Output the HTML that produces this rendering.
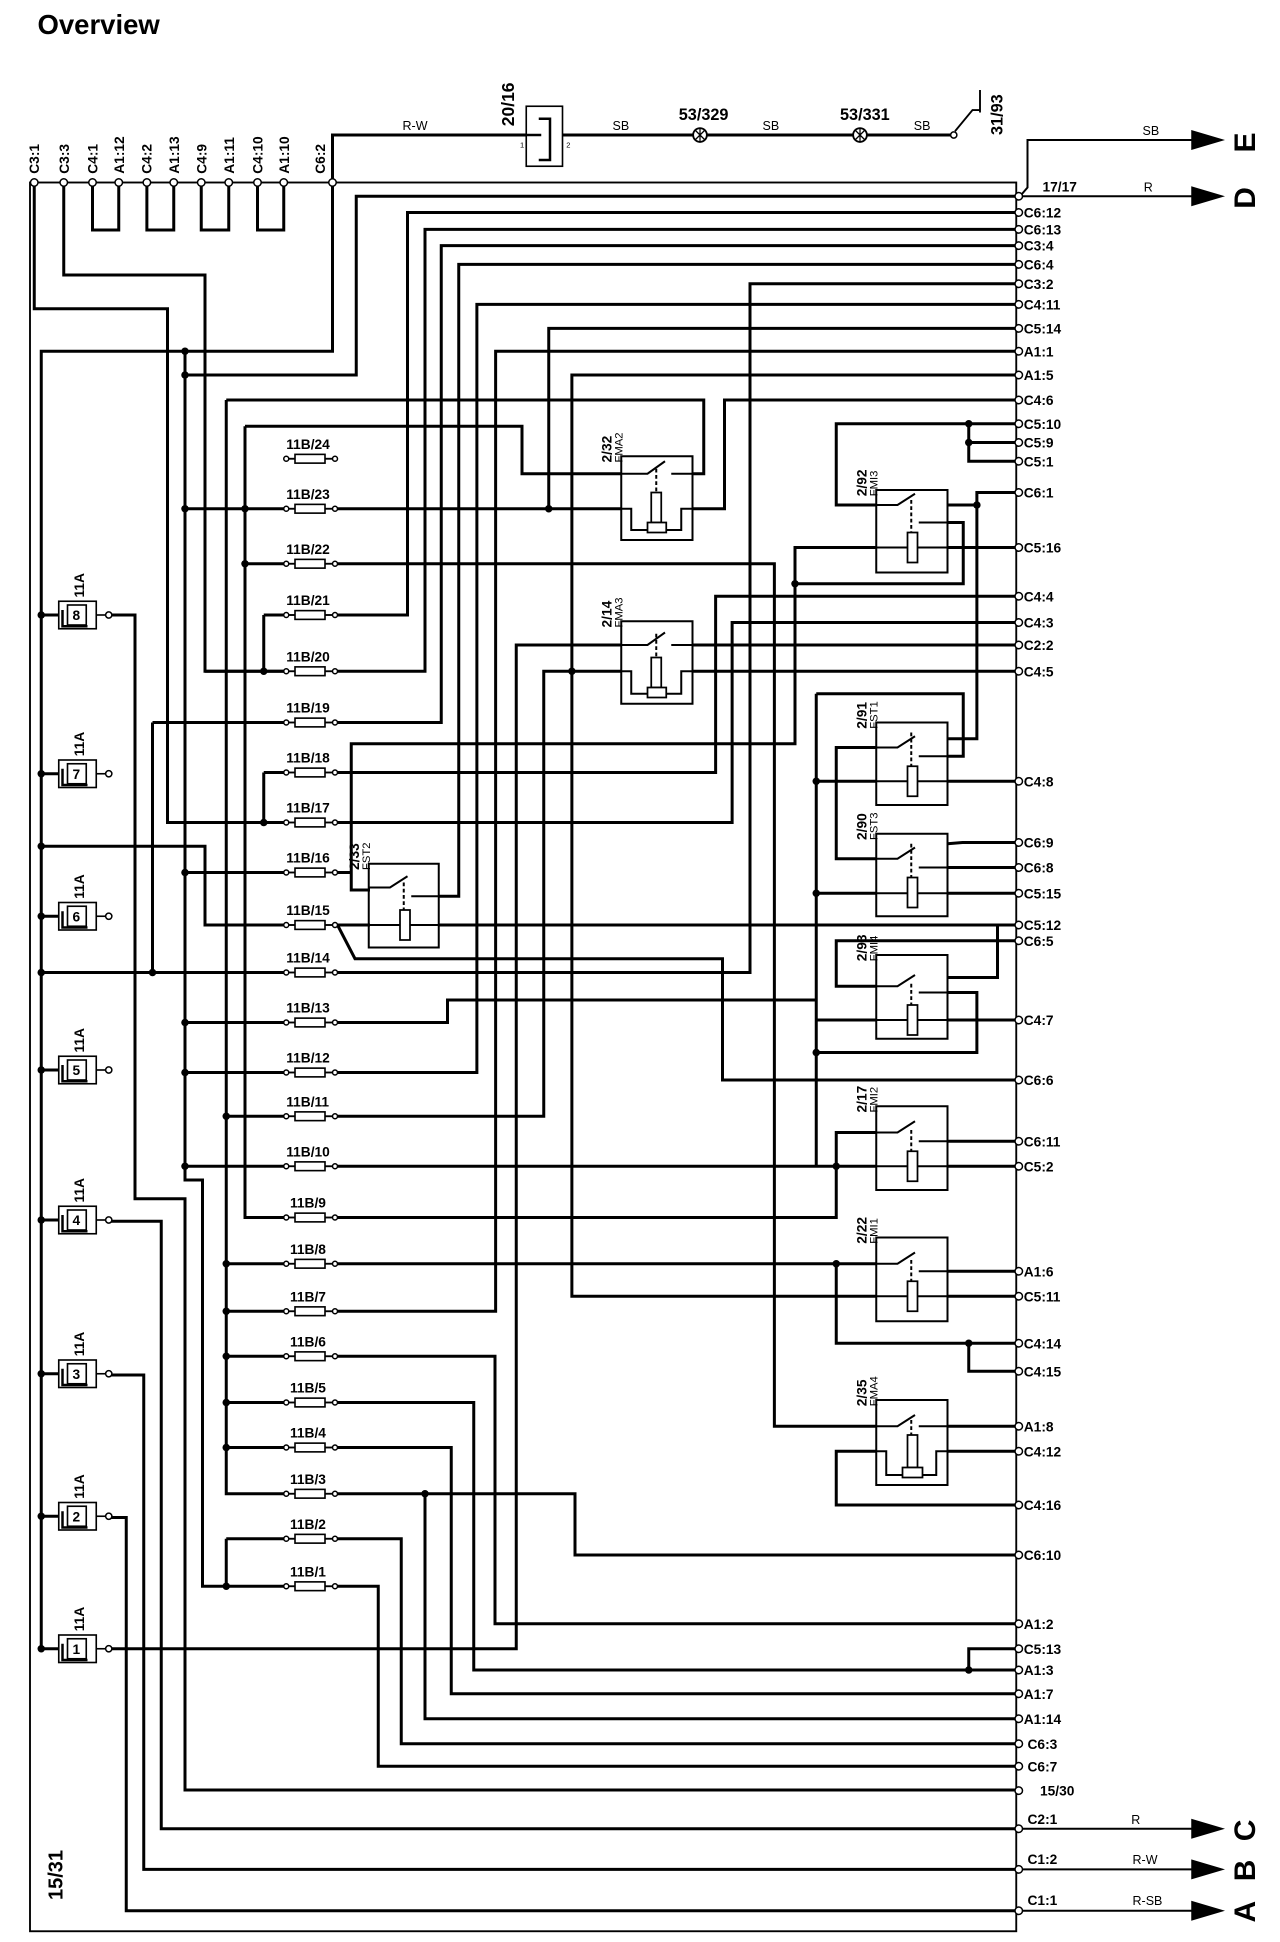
<!DOCTYPE html>
<html><head><meta charset="utf-8"><style>
html,body{margin:0;padding:0;background:#fff}
svg{display:block}
text{font-family:"Liberation Sans",sans-serif;fill:#000}
.b{font-weight:bold;font-size:11px}
.s{font-size:6px}
.w{fill:none;stroke:#000;stroke-width:2.4}
.t{fill:none;stroke:#000;stroke-width:1.3}
</style></head><body>
<svg width="1280" height="1942" viewBox="0 0 1024 1553.6" xmlns="http://www.w3.org/2000/svg">
<defs>
<g id="fz"><line x1="229" y1="0" x2="236" y2="0" stroke="#000" stroke-width="1.5"/><line x1="260" y1="0" x2="268" y2="0" stroke="#000" stroke-width="1.5"/><rect x="236" y="-3.5" width="24" height="7" fill="#fff" stroke="#000" stroke-width="1.3"/><circle cx="229" cy="0" r="2" fill="#fff" stroke="#000" stroke-width="1.2"/><circle cx="268" cy="0" r="2" fill="#fff" stroke="#000" stroke-width="1.2"/></g>
<g id="fa"><line x1="33" y1="0" x2="47" y2="0" stroke="#000" stroke-width="2.4"/><rect x="47" y="-11" width="30" height="22" fill="#fff" stroke="#000" stroke-width="1.3"/><rect x="54" y="-8" width="15" height="16" fill="none" stroke="#000" stroke-width="1.3"/><path d="M50,-4 V9 H70" fill="none" stroke="#000" stroke-width="2"/><line x1="77" y1="0" x2="84" y2="0" stroke="#000" stroke-width="1.3"/><circle cx="87" cy="0" r="2.5" fill="#fff" stroke="#000" stroke-width="1.2"/></g>
</defs>

<text x="30" y="27" style="font-weight:bold;font-size:22px">Overview</text>

<rect x="24" y="146" width="789" height="1399" fill="none" stroke="#000" stroke-width="1.5"/>

<path class="w" d="M266,146 V108 H421"/>
<path class="w" d="M450,108 H763"/>
<rect x="421" y="85" width="29" height="48" fill="#fff" stroke="#000" stroke-width="1.3"/>
<path d="M431,95 H440 V128 H431 M421,108 H433" fill="none" stroke="#000" stroke-width="2"/>
<text x="0" y="0" transform="translate(411,101) rotate(-90)" style="font-weight:bold;font-size:14px">20/16</text>
<text x="416" y="118" class="s">1</text><text x="453" y="118" class="s">2</text>
<text x="322" y="104" style="font-size:10px">R-W</text>
<text x="490" y="104" style="font-size:10px">SB</text>
<text x="610" y="104" style="font-size:10px">SB</text>
<text x="731" y="104" style="font-size:10px">SB</text>
<circle cx="560" cy="108" r="5.5" fill="#fff" stroke="#000" stroke-width="1.5"/><path d="M556,104 L564,112 M564,104 L556,112 M560,103 V113" stroke="#000" stroke-width="1"/>
<circle cx="688" cy="108" r="5.5" fill="#fff" stroke="#000" stroke-width="1.5"/><path d="M684,104 L692,112 M692,104 L684,112 M688,103 V113" stroke="#000" stroke-width="1"/>
<text x="543" y="96" style="font-weight:bold;font-size:13px">53/329</text>
<text x="672" y="96" style="font-weight:bold;font-size:13px">53/331</text>
<circle cx="763" cy="108" r="2.5" fill="#fff" stroke="#000" stroke-width="1.2"/>
<path d="M764,105 L778,88 H784 M784,72 V90" fill="none" stroke="#000" stroke-width="1.5"/>
<text transform="translate(802,108) rotate(-90)" style="font-weight:bold;font-size:13px">31/93</text>

<path class="w" d="M74,146 V184 H95 V146 M117.5,146 V184 H139 V146 M161,146 V184 H183 V146 M206,146 V184 H227 V146"/>
<g fill="#fff" stroke="#000" stroke-width="1.2">
<circle cx="27.4" cy="146" r="3"/><circle cx="51" cy="146" r="3"/><circle cx="74" cy="146" r="3"/><circle cx="95" cy="146" r="3"/><circle cx="117.5" cy="146" r="3"/><circle cx="139" cy="146" r="3"/><circle cx="161" cy="146" r="3"/><circle cx="183" cy="146" r="3"/><circle cx="206" cy="146" r="3"/><circle cx="227" cy="146" r="3"/><circle cx="266" cy="146" r="3"/></g>
<g class="b">
<text transform="translate(31,139) rotate(-90)">C3:1</text>
<text transform="translate(55,139) rotate(-90)">C3:3</text>
<text transform="translate(78,139) rotate(-90)">C4:1</text>
<text transform="translate(99,139) rotate(-90)">A1:12</text>
<text transform="translate(121,139) rotate(-90)">C4:2</text>
<text transform="translate(143,139) rotate(-90)">A1:13</text>
<text transform="translate(165,139) rotate(-90)">C4:9</text>
<text transform="translate(187,139) rotate(-90)">A1:11</text>
<text transform="translate(210,139) rotate(-90)">C4:10</text>
<text transform="translate(231,139) rotate(-90)">A1:10</text>
<text transform="translate(260,139) rotate(-90)">C6:2</text>
</g>

<g class="w">
<path d="M266,149 V281 H33 V1319"/>
<path d="M51,149 V220 H164 V537 H228"/>
<path d="M27.4,149 V247 H134 V658 H228"/>
<path d="M813,157 H285 V300 H148"/>
<path d="M148,281 V944 H162 V1269 H228"/>
<path d="M87,492 H108 V959 H148 V1432 H813"/>
<path d="M148,407 H228"/>
<path d="M196,451 H228"/>
<path d="M211,492 H228 M211,492 V537"/>
<path d="M164,537 H228"/>
<path d="M122,578 H228 M122,578 V778"/>
<path d="M211,618 H228 M211,618 V658"/>
<path d="M134,658 H228"/>
<path d="M148,698 H228"/>
<path d="M33,677 H164 V740 H228"/>
<path d="M33,778 H228"/>
<path d="M148,818 H228"/>
<path d="M148,858 H228"/>
<path d="M181,893 H228"/>
<path d="M148,933 H228"/>
<path d="M196,341 V974 H228"/>
<path d="M181,1011 H228 M181,1049 H228 M181,1085 H228 M181,1122 H228 M181,1158 H228"/>
<path d="M181,320 V1195 H228"/>
<path d="M181,1231 H228 M181,1231 V1269"/>
<path d="M270,407 H497"/>
<path d="M270,451 H619.5 V1141 H701"/>
<path d="M270,492 H326 V170 H813"/>
<path d="M270,537 H340 V183.5 H813"/>
<path d="M270,578 H353 V196.5 H813"/>
<path d="M270,618 H572.5 V477 H813"/>
<path d="M270,658 H585.7 V498 H813"/>
<path d="M270,698 H281"/>
<path d="M270,740 H296"/>
<path d="M270,740 L284,767 H578 V864 H813"/>
<path d="M270,778 H600 V227 H813"/>
<path d="M270,818 H358 V800 H653"/>
<path d="M270,858 H381.5 V243.5 H813"/>
<path d="M270,893 H435 V537 H497"/>
<path d="M270,933 H701"/>
<path d="M270,974 H669 V906 H701"/>
<path d="M270,1011 H701 M669,1011 V1074.6 H813 M775,1074.6 V1097 H813"/>
<path d="M270,1049 H396.5 V281 H813"/>
<path d="M270,1085 H396 V1299 H813"/>
<path d="M270,1122 H379 V1336 H813 M813,1319 H775 V1336"/>
<path d="M270,1158 H361 V1355 H813"/>
<path d="M270,1195 H460 V1244 H813 M340,1195 V1375 H813"/>
<path d="M270,1231 H321 V1395 H813"/>
<path d="M270,1269 H302.6 V1413 H813"/>
<path d="M813,262.7 H439 V407"/>
<path d="M813,211.5 H367 V717 H351"/>
<path d="M813,300 H457.5 V1037 H701"/>
<path d="M813,320 H579.6 V407 H554"/>
<path d="M181,320 H563 V379 H554"/>
<path d="M196,341 H417.6 V379 H497"/>
<path d="M87,1319 H413 V516 H497"/>
<path d="M554,516 H813 M554,537 H813"/>
<path d="M701,404 H669 V339 H813 M775,339 V369 H813 M775,354 H813"/>
<path d="M758,404 H781.5 M813,394 H781.5 V591 H758"/>
<path d="M758,418 H770.6 V467 H636"/>
<path d="M701,438 H636 V595 H281 V712 H296"/>
<path d="M758,438 H813"/>
<path d="M653,555 H770.6 V605 H758 M653,555 V933"/>
<path d="M701,625 H653 M758,625 H813 M701,598 H669 V687 H701"/>
<path d="M758,675 L770,674 H813 M758,694 H813 M701,714.6 H653 M758,714.6 H813"/>
<path d="M351,740 H813"/>
<path d="M701,789 H669 V752.6 H813 M758,782 H798 V740 M701,816 H653 M758,794 H781.5 V842 H653 M758,816 H813"/>
<path d="M758,913 H813 M758,933 H813"/>
<path d="M758,1017 H813 M758,1037 H813"/>
<path d="M758,1141 H813 M758,1161 H813 M701,1161 H669 V1204 H813"/>
<path d="M87,977 H129 V1463 H813"/>
<path d="M87,1100 H115 V1495.5 H813"/>
<path d="M87,1214 H101 V1528.6 H813"/>
</g>

<g stroke="#000" stroke-width="1.6" fill="none">
<path d="M816,157 L822,150 V112 H955"/><path d="M816,157 H955"/>
<path d="M816,1463 H955"/><path d="M816,1495.5 H955"/><path d="M816,1528.6 H955"/>
</g>
<g fill="#000">
<path d="M953,104 L980,112 L953,120Z"/><path d="M953,149 L980,157 L953,165Z"/>
<path d="M953,1455 L980,1463 L953,1471Z"/><path d="M953,1487.5 L980,1495.5 L953,1503.5Z"/><path d="M953,1520.6 L980,1528.6 L953,1536.6Z"/>
</g>
<g style="font-family:'Liberation Serif',serif;font-weight:bold;font-size:24px">
<text transform="translate(1004,122) rotate(-90)">E</text>
<text transform="translate(1004,167) rotate(-90)">D</text>
<text transform="translate(1004,1473) rotate(-90)">C</text>
<text transform="translate(1004,1505) rotate(-90)">B</text>
<text transform="translate(1004,1538) rotate(-90)">A</text>
</g>
<g style="font-size:10px">
<text x="914" y="108">SB</text><text x="915" y="153">R</text>
<text x="905" y="1459">R</text><text x="906" y="1491">R-W</text><text x="906" y="1524">R-SB</text>
</g>

<g fill="#fff" stroke="#000" stroke-width="1.2">
<circle cx="815" cy="157" r="3"/><circle cx="815" cy="170" r="3"/><circle cx="815" cy="183.5" r="3"/><circle cx="815" cy="196.5" r="3"/><circle cx="815" cy="211.5" r="3"/><circle cx="815" cy="227" r="3"/><circle cx="815" cy="243.5" r="3"/><circle cx="815" cy="262.7" r="3"/><circle cx="815" cy="281" r="3"/><circle cx="815" cy="300" r="3"/><circle cx="815" cy="320" r="3"/><circle cx="815" cy="339" r="3"/><circle cx="815" cy="354" r="3"/><circle cx="815" cy="369" r="3"/><circle cx="815" cy="394" r="3"/><circle cx="815" cy="438" r="3"/><circle cx="815" cy="477" r="3"/><circle cx="815" cy="498" r="3"/><circle cx="815" cy="516" r="3"/><circle cx="815" cy="537" r="3"/><circle cx="815" cy="625" r="3"/><circle cx="815" cy="674" r="3"/><circle cx="815" cy="694" r="3"/><circle cx="815" cy="714.6" r="3"/><circle cx="815" cy="740" r="3"/><circle cx="815" cy="752.6" r="3"/><circle cx="815" cy="816" r="3"/><circle cx="815" cy="864" r="3"/><circle cx="815" cy="913" r="3"/><circle cx="815" cy="933" r="3"/><circle cx="815" cy="1017" r="3"/><circle cx="815" cy="1037" r="3"/><circle cx="815" cy="1074.6" r="3"/><circle cx="815" cy="1097" r="3"/><circle cx="815" cy="1141" r="3"/><circle cx="815" cy="1161" r="3"/><circle cx="815" cy="1204" r="3"/><circle cx="815" cy="1244" r="3"/><circle cx="815" cy="1299" r="3"/><circle cx="815" cy="1319" r="3"/><circle cx="815" cy="1336" r="3"/><circle cx="815" cy="1355" r="3"/><circle cx="815" cy="1375" r="3"/><circle cx="815" cy="1395" r="3"/><circle cx="815" cy="1413" r="3"/><circle cx="815" cy="1432.5" r="3"/><circle cx="815" cy="1463" r="3"/><circle cx="815" cy="1495.5" r="3"/><circle cx="815" cy="1528.6" r="3"/></g>
<g class="b">
<text x="834" y="153">17/17</text>
<text x="819" y="174">C6:12</text><text x="819" y="187.5">C6:13</text><text x="819" y="200.5">C3:4</text><text x="819" y="215.5">C6:4</text><text x="819" y="231">C3:2</text><text x="819" y="247.5">C4:11</text><text x="819" y="266.7">C5:14</text><text x="819" y="285">A1:1</text><text x="819" y="304">A1:5</text><text x="819" y="324">C4:6</text><text x="819" y="343">C5:10</text><text x="819" y="358">C5:9</text><text x="819" y="373">C5:1</text><text x="819" y="398">C6:1</text><text x="819" y="442">C5:16</text><text x="819" y="481">C4:4</text><text x="819" y="502">C4:3</text><text x="819" y="520">C2:2</text><text x="819" y="541">C4:5</text><text x="819" y="629">C4:8</text><text x="819" y="678">C6:9</text><text x="819" y="698">C6:8</text><text x="819" y="718.6">C5:15</text><text x="819" y="744">C5:12</text><text x="819" y="756.6">C6:5</text><text x="819" y="820">C4:7</text><text x="819" y="868">C6:6</text><text x="819" y="917">C6:11</text><text x="819" y="937">C5:2</text><text x="819" y="1021">A1:6</text><text x="819" y="1041">C5:11</text><text x="819" y="1078.6">C4:14</text><text x="819" y="1101">C4:15</text><text x="819" y="1145">A1:8</text><text x="819" y="1165">C4:12</text><text x="819" y="1208">C4:16</text><text x="819" y="1248">C6:10</text><text x="819" y="1303">A1:2</text><text x="819" y="1323">C5:13</text><text x="819" y="1340">A1:3</text><text x="819" y="1359">A1:7</text><text x="819" y="1379">A1:14</text><text x="822" y="1399">C6:3</text><text x="822" y="1417">C6:7</text><text x="832" y="1436.5">15/30</text><text x="822" y="1459">C2:1</text><text x="822" y="1491">C1:2</text><text x="822" y="1524">C1:1</text>
</g>

<use href="#fz" y="367"/><use href="#fz" y="407"/><use href="#fz" y="451"/><use href="#fz" y="492"/><use href="#fz" y="537"/><use href="#fz" y="578"/><use href="#fz" y="618"/><use href="#fz" y="658"/><use href="#fz" y="698"/><use href="#fz" y="740"/><use href="#fz" y="778"/><use href="#fz" y="818"/><use href="#fz" y="858"/><use href="#fz" y="893"/><use href="#fz" y="933"/><use href="#fz" y="974"/><use href="#fz" y="1011"/><use href="#fz" y="1049"/><use href="#fz" y="1085"/><use href="#fz" y="1122"/><use href="#fz" y="1158"/><use href="#fz" y="1195"/><use href="#fz" y="1231"/><use href="#fz" y="1269"/>
<g class="b">
<text x="229" y="359">11B/24</text><text x="229" y="399">11B/23</text><text x="229" y="443">11B/22</text><text x="229" y="484">11B/21</text><text x="229" y="529">11B/20</text><text x="229" y="570">11B/19</text><text x="229" y="610">11B/18</text><text x="229" y="650">11B/17</text><text x="229" y="690">11B/16</text><text x="229" y="732">11B/15</text><text x="229" y="770">11B/14</text><text x="229" y="810">11B/13</text><text x="229" y="850">11B/12</text><text x="229" y="885">11B/11</text><text x="229" y="925">11B/10</text><text x="232" y="966">11B/9</text><text x="232" y="1003">11B/8</text><text x="232" y="1041">11B/7</text><text x="232" y="1077">11B/6</text><text x="232" y="1114">11B/5</text><text x="232" y="1150">11B/4</text><text x="232" y="1187">11B/3</text><text x="232" y="1223">11B/2</text><text x="232" y="1261">11B/1</text>
</g>

<use href="#fa" y="492"/><use href="#fa" y="619"/><use href="#fa" y="733"/><use href="#fa" y="856"/><use href="#fa" y="976"/><use href="#fa" y="1099"/><use href="#fa" y="1213"/><use href="#fa" y="1319"/>
<g style="font-weight:bold;font-size:11px">
<text x="58" y="496">8</text><text x="58" y="623">7</text><text x="58" y="737">6</text><text x="58" y="860">5</text><text x="58" y="980">4</text><text x="58" y="1103">3</text><text x="58" y="1217">2</text><text x="58" y="1323">1</text>
<text transform="translate(67,478) rotate(-90)">11A</text><text transform="translate(67,605) rotate(-90)">11A</text><text transform="translate(67,719) rotate(-90)">11A</text><text transform="translate(67,842) rotate(-90)">11A</text><text transform="translate(67,962) rotate(-90)">11A</text><text transform="translate(67,1085) rotate(-90)">11A</text><text transform="translate(67,1199) rotate(-90)">11A</text><text transform="translate(67,1305) rotate(-90)">11A</text>
</g>
<text transform="translate(50,1520) rotate(-90)" style="font-weight:bold;font-size:16px">15/31</text>

<g stroke="#000" fill="none" stroke-width="1.6">
<rect x="497" y="365" width="57" height="67"/>
<path d="M497,379 H518 L532,369 M537,379 H554 M497,407 H505 V424 H545 V407 H554"/>
<rect x="497" y="497" width="57" height="66"/>
<path d="M497,516 H518 L532,506 M537,516 H554 M497,537 H505 V555 H545 V537 H554"/>
<rect x="701" y="392" width="57" height="66"/>
<path d="M701,404 H718 L732,395 M735,418 H758 M701,438 H758"/>
<rect x="701" y="578" width="57" height="66"/>
<path d="M701,598 H718 L732,589 M735,605 H758 M701,625 H758"/>
<rect x="701" y="667" width="57" height="66"/>
<path d="M701,687 H718 L732,678 M735,694 H758 M701,714.6 H758"/>
<rect x="295" y="691" width="56" height="67"/>
<path d="M295,710 H312 L326,701 M329,717 H351 M295,740 H351"/>
<rect x="701" y="764" width="57" height="67"/>
<path d="M701,789 H718 L732,780 M735,794 H758 M701,816 H758"/>
<rect x="701" y="885" width="57" height="67"/>
<path d="M701,906 H718 L732,897 M735,913 H758 M701,933 H758"/>
<rect x="701" y="990" width="57" height="67"/>
<path d="M701,1011 H718 L732,1002 M735,1017 H758 M701,1037 H758"/>
<rect x="701" y="1120" width="57" height="68"/>
<path d="M701,1141 H718 L732,1132 M735,1141 H758 M701,1161 H709 V1180 H749 V1161 H758"/>
</g>
<g stroke="#000" stroke-width="1.6" stroke-dasharray="3,2">
<path d="M525,375 V394 M525,507 V526 M729,400 V426 M729,586 V613 M729,675 V702 M323,706 V728 M729,787 V804 M729,904 V921 M729,1008 V1025 M729,1136 V1148"/>
</g>
<g fill="#fff" stroke="#000" stroke-width="1.4">
<rect x="521" y="394" width="8" height="24"/><rect x="518" y="418" width="15" height="8"/>
<rect x="521" y="526" width="8" height="24"/><rect x="518" y="550" width="15" height="8"/>
<rect x="726" y="426" width="8" height="24"/>
<rect x="726" y="613" width="8" height="24"/>
<rect x="726" y="702" width="8" height="24"/>
<rect x="320" y="728" width="8" height="24"/>
<rect x="726" y="804" width="8" height="24"/>
<rect x="726" y="921" width="8" height="24"/>
<rect x="726" y="1025" width="8" height="24"/>
<rect x="726" y="1148" width="8" height="26"/><rect x="722" y="1174" width="16" height="8"/>
</g>
<g class="b">
<text transform="translate(489,370) rotate(-90)">2/32</text>
<text transform="translate(489,502) rotate(-90)">2/14</text>
<text transform="translate(693,397) rotate(-90)">2/92</text>
<text transform="translate(693,583) rotate(-90)">2/91</text>
<text transform="translate(693,672) rotate(-90)">2/90</text>
<text transform="translate(287,696) rotate(-90)">2/33</text>
<text transform="translate(693,769) rotate(-90)">2/93</text>
<text transform="translate(693,890) rotate(-90)">2/17</text>
<text transform="translate(693,995) rotate(-90)">2/22</text>
<text transform="translate(693,1125) rotate(-90)">2/35</text>
</g>
<g style="font-size:9px">
<text transform="translate(498,370) rotate(-90)">FMA2</text>
<text transform="translate(498,502) rotate(-90)">FMA3</text>
<text transform="translate(702,397) rotate(-90)">FMI3</text>
<text transform="translate(702,583) rotate(-90)">FST1</text>
<text transform="translate(702,672) rotate(-90)">FST3</text>
<text transform="translate(296,696) rotate(-90)">FST2</text>
<text transform="translate(702,769) rotate(-90)">FMI4</text>
<text transform="translate(702,890) rotate(-90)">FMI2</text>
<text transform="translate(702,995) rotate(-90)">FMI1</text>
<text transform="translate(702,1125) rotate(-90)">FMA4</text>
</g>

<g fill="#000">
<circle cx="148" cy="281" r="3"/><circle cx="148" cy="300" r="3"/><circle cx="148" cy="407" r="3"/><circle cx="196" cy="407" r="3"/><circle cx="196" cy="451" r="3"/><circle cx="211" cy="537" r="3"/><circle cx="211" cy="658" r="3"/><circle cx="148" cy="698" r="3"/><circle cx="33" cy="677" r="3"/><circle cx="122" cy="778" r="3"/><circle cx="33" cy="778" r="3"/><circle cx="148" cy="818" r="3"/><circle cx="148" cy="858" r="3"/><circle cx="181" cy="893" r="3"/><circle cx="148" cy="933" r="3"/><circle cx="181" cy="1011" r="3"/><circle cx="181" cy="1049" r="3"/><circle cx="181" cy="1085" r="3"/><circle cx="181" cy="1122" r="3"/><circle cx="181" cy="1158" r="3"/><circle cx="181" cy="1269" r="3"/><circle cx="439" cy="407" r="3"/><circle cx="457.5" cy="537" r="3"/><circle cx="636" cy="467" r="3"/><circle cx="781.5" cy="404" r="3"/><circle cx="775" cy="339" r="3"/><circle cx="775" cy="354" r="3"/><circle cx="653" cy="625" r="3"/><circle cx="653" cy="714.6" r="3"/><circle cx="653" cy="842" r="3"/><circle cx="669" cy="933" r="3"/><circle cx="669" cy="1011" r="3"/><circle cx="775" cy="1074.6" r="3"/><circle cx="340" cy="1195" r="3"/><circle cx="775" cy="1336" r="3"/>
<circle cx="33" cy="492" r="3"/><circle cx="33" cy="619" r="3"/><circle cx="33" cy="733" r="3"/><circle cx="33" cy="856" r="3"/><circle cx="33" cy="976" r="3"/><circle cx="33" cy="1099" r="3"/><circle cx="33" cy="1213" r="3"/><circle cx="33" cy="1319" r="3"/>
</g>
</svg>
</body></html>
